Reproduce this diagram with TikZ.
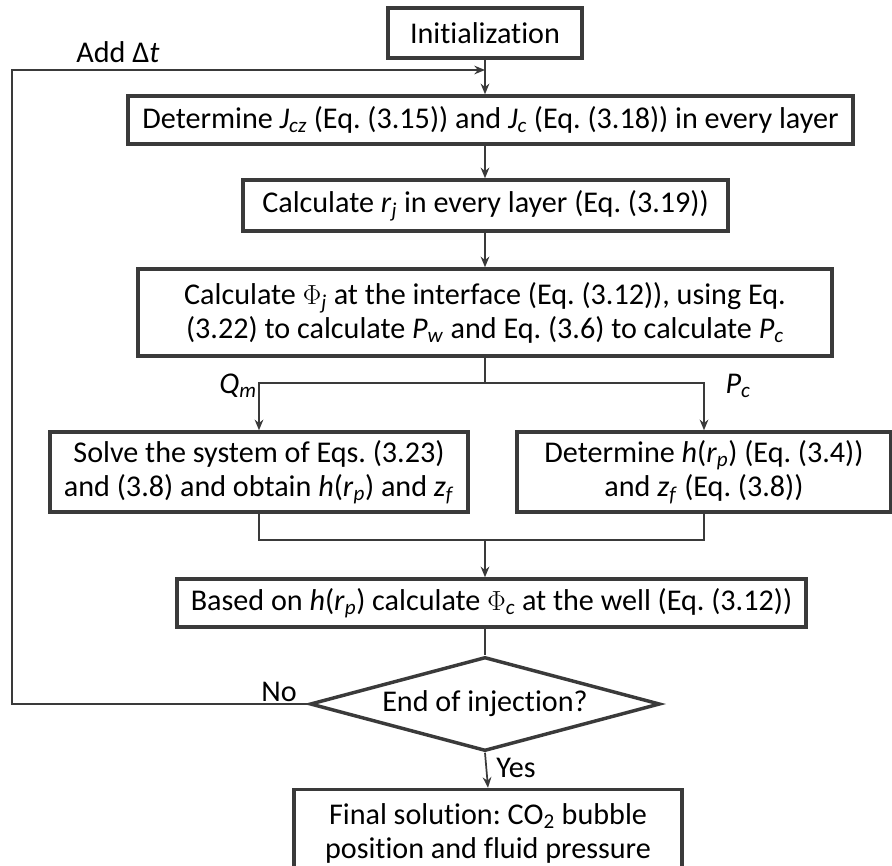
\documentclass[tikz,border=0pt]{standalone}
\usepackage[no-math]{fontspec}
\setmainfont[Ligatures=NoCommon]{Carlito}
\usepackage{xcolor}
\usetikzlibrary{arrows.meta,positioning,shapes.geometric}

\definecolor{linegray}{HTML}{3A3A3A}
\newcommand{\vsub}[2]{\textit{#1}\textsubscript{\textit{#2}}}
\frenchspacing

\tikzset{
  box/.style={draw=linegray, line width=2.6pt, align=center, inner sep=0pt},
  flow/.style={draw=linegray, line width=1.3pt},
  arr/.style={flow, -{Stealth[length=8pt,width=6.5pt]}},
}

\begin{document}
\begin{tikzpicture}[x=0.75pt, y=-0.75pt, every node/.style={font=\fontsize{22.6}{25.5}\selectfont}]
  \useasboundingbox (0,0) rectangle (892,865);
  \clip (0,0) rectangle (892,865);
  % main column
  \coordinate (axis) at (485,0);
  \node[box, minimum width=145.5pt, minimum height=37.5pt] (init) at (485,33) {Initialization};
  \node[box, minimum width=543.75pt, minimum height=36pt] (det) at (490.5,120)
        {Determine \vsub{J}{cz} (Eq. (3.15)) and \vsub{J}{c} (Eq. (3.18)) in every layer};
  \node[box, minimum width=363.75pt, minimum height=38.25pt] (rj) at (485.5,205.5)
        {Calculate \vsub{r}{j} in every layer (Eq. (3.19))};
  \node[box, minimum width=520.5pt, minimum height=65.25pt] (phij) at (485,312.5)
        {Calculate $\Phi$\textsubscript{\textit{j}} at the interface (Eq. (3.12)), using Eq.\\
         (3.22) to calculate \vsub{P}{w} and Eq. (3.6) to calculate \vsub{P}{c}};
  % two branches
  \node[box, minimum width=313.5pt, minimum height=60pt] (solve) at (259,472)
        {Solve the system of Eqs. (3.23)\\ and (3.8) and obtain \textit{h}(\vsub{r}{p}) and \vsub{z}{f}};
  \node[box, minimum width=280.5pt, minimum height=60pt] (hrp) at (704,472)
        {Determine \textit{h}(\vsub{r}{p}) (Eq. (3.4))\\ and \vsub{z}{f} (Eq. (3.8))};
  \node[box, minimum width=471.75pt, minimum height=36pt] (phic) at (491.5,603)
        {Based on \textit{h}(\vsub{r}{p}) calculate $\Phi$\textsubscript{\textit{c}} at the well (Eq. (3.12))};
  % decision and result
  \node[box, diamond, aspect=3.7, minimum width=262.5pt, minimum height=70.5pt] (endinj) at (485,704)
        {End of injection?};
  \node[box, minimum width=291pt, minimum height=65.25pt] (final) at (488,833)
        {Final solution: CO\textsubscript{2} bubble\\ position and fluid pressure};

  % connectors
  \coordinate (loopcorner) at (12,70);
  \coordinate (loopin) at (axis |- loopcorner);
  \coordinate (split) at (485,383);
  \coordinate (merge) at (485,540);
  \draw[arr] (init.south) -- (det.north -| axis);
  \draw[arr] (endinj.west) -| (loopcorner) -- (loopin);
  \draw[arr] (det.south -| axis) -- (rj.north -| axis);
  \draw[arr] (rj.south -| axis) -- (phij.north -| axis);
  \draw[flow] (phij.south -| axis) -- (split);
  \draw[arr] (split) -| (solve.north);
  \draw[arr] (split) -| (hrp.north);
  \draw[flow] (solve.south) |- (merge);
  \draw[flow] (hrp.south) |- (merge);
  \draw[arr] (merge) -- (phic.north -| axis);
  \draw[flow] (phic.south -| axis) -- (endinj.north);
  \draw[arr] (endinj.south) -- (final.north);

  % labels
  \node (addt) at (118,52) {Add Δ\textit{t}};
  \node (qm) at (238,386) {\vsub{Q}{m}};
  \node (pc) at (738,386) {\vsub{P}{c}};
  \node (no) at (279,692) {No};
  \node (yes) at (516,768) {Yes};
\end{tikzpicture}
\end{document}
